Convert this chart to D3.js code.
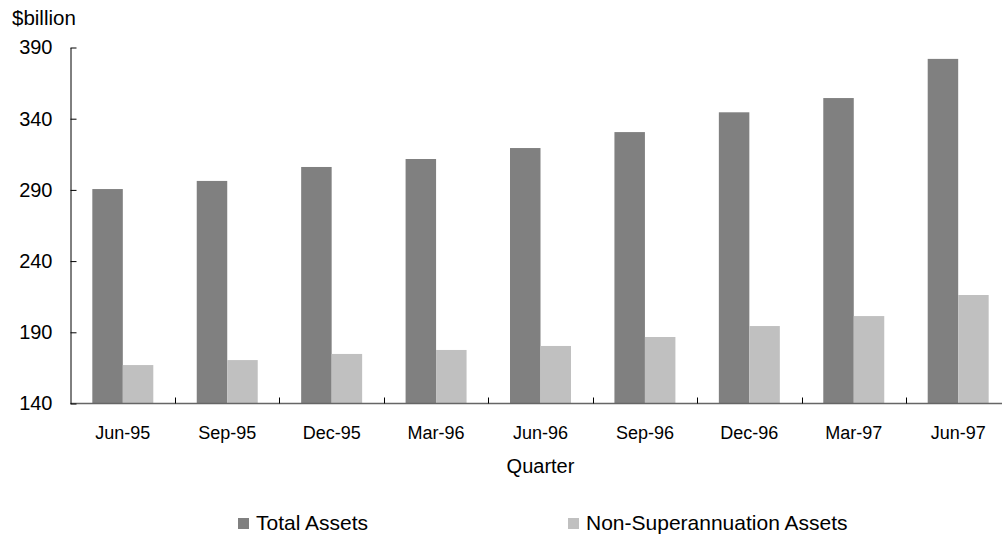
<!DOCTYPE html>
<html>
<head>
<meta charset="utf-8">
<script src="https://cdn.jsdelivr.net/npm/d3@7"></script>
<style>
  body { margin: 0; background: #fff; }
  text { font-family: "Liberation Sans", Arial, sans-serif; fill: #000; }
</style>
</head>
<body>
<svg id="chart" width="1002" height="534"></svg>
<script>
'use strict';

// chart data
var quarters = ['Jun-95', 'Sep-95', 'Dec-95', 'Mar-96', 'Jun-96', 'Sep-96', 'Dec-96', 'Mar-97', 'Jun-97'];
var totalAssets = [290.6, 296.3, 306.1, 311.7, 319.4, 330.6, 344.5, 354.5, 382.0];
var nonSuperAssets = [167.0, 170.5, 174.8, 177.6, 180.4, 186.7, 194.4, 201.4, 216.2];
var yTicks = [140, 190, 240, 290, 340, 390];
var seriesNames = ['Total Assets', 'Non-Superannuation Assets'];
var seriesColors = ['#808080', '#c0c0c0'];

var svg = d3.select('#chart');

var plotLeft = 70.6, plotRight = 1010.4, plotTop = 47.5, plotBottom = 403.5;

var x = d3.scaleBand().domain(quarters).range([plotLeft, plotRight]).padding(0);
var y = d3.scaleLinear().domain([140, 390]).range([plotBottom, plotTop]);

var barW = x.bandwidth() * 0.292;

// bars
var groups = svg.append('g').selectAll('g.quarter')
  .data(quarters)
  .enter().append('g')
  .attr('class', 'quarter');

groups.append('rect')
  .attr('x', function(d) { return x(d) + x.bandwidth() / 2 - barW; })
  .attr('y', function(d, i) { return y(totalAssets[i]); })
  .attr('width', barW)
  .attr('height', function(d, i) { return y(140) - y(totalAssets[i]); })
  .attr('fill', seriesColors[0]);

groups.append('rect')
  .attr('x', function(d) { return x(d) + x.bandwidth() / 2; })
  .attr('y', function(d, i) { return y(nonSuperAssets[i]); })
  .attr('width', barW)
  .attr('height', function(d, i) { return y(140) - y(nonSuperAssets[i]); })
  .attr('fill', seriesColors[1]);

// x axis: labels under each quarter, ticks at the boundaries
var xAxis = svg.append('g')
  .attr('transform', 'translate(0,' + plotBottom + ')')
  .call(d3.axisBottom(x).tickSize(0).tickPadding(23));
xAxis.select('.domain').remove();
xAxis.selectAll('text').style('font-size', '18px');

svg.append('line')
  .attr('x1', plotLeft).attr('x2', plotRight)
  .attr('y1', plotBottom).attr('y2', plotBottom)
  .attr('stroke', '#666').attr('stroke-width', 1.5);

svg.append('g').selectAll('line')
  .data(quarters.slice(1))
  .enter().append('line')
  .attr('x1', function(d) { return Math.round(x(d)) + 0.5; })
  .attr('x2', function(d) { return Math.round(x(d)) + 0.5; })
  .attr('y1', plotBottom)
  .attr('y2', plotBottom - 6)
  .attr('stroke', '#000');

// y axis
var yAxis = svg.append('g')
  .attr('transform', 'translate(70.5,0)')
  .call(d3.axisLeft(y).tickValues(yTicks).tickSize(-6).tickPadding(18).tickSizeOuter(0));
yAxis.select('.domain').attr('stroke', '#000');
yAxis.selectAll('.tick line').attr('stroke', '#000');
yAxis.selectAll('text').style('font-size', '20px');

svg.append('text')
  .attr('x', 12).attr('y', 25)
  .style('font-size', '20.5px')
  .text('$billion');

svg.append('text')
  .attr('x', (plotLeft + plotRight) / 2).attr('y', 473)
  .attr('text-anchor', 'middle')
  .style('font-size', '20px')
  .text('Quarter');

// legend
var legendX = [238, 568];
var legend = svg.append('g').selectAll('g')
  .data(seriesNames)
  .enter().append('g')
  .attr('transform', function(d, i) { return 'translate(' + legendX[i] + ',518)'; });

legend.append('rect')
  .attr('width', 11).attr('height', 11)
  .attr('fill', function(d, i) { return seriesColors[i]; });

legend.append('text')
  .attr('x', 18).attr('y', 12)
  .style('font-size', '21px')
  .text(function(d) { return d; });
</script>
</body>
</html>
